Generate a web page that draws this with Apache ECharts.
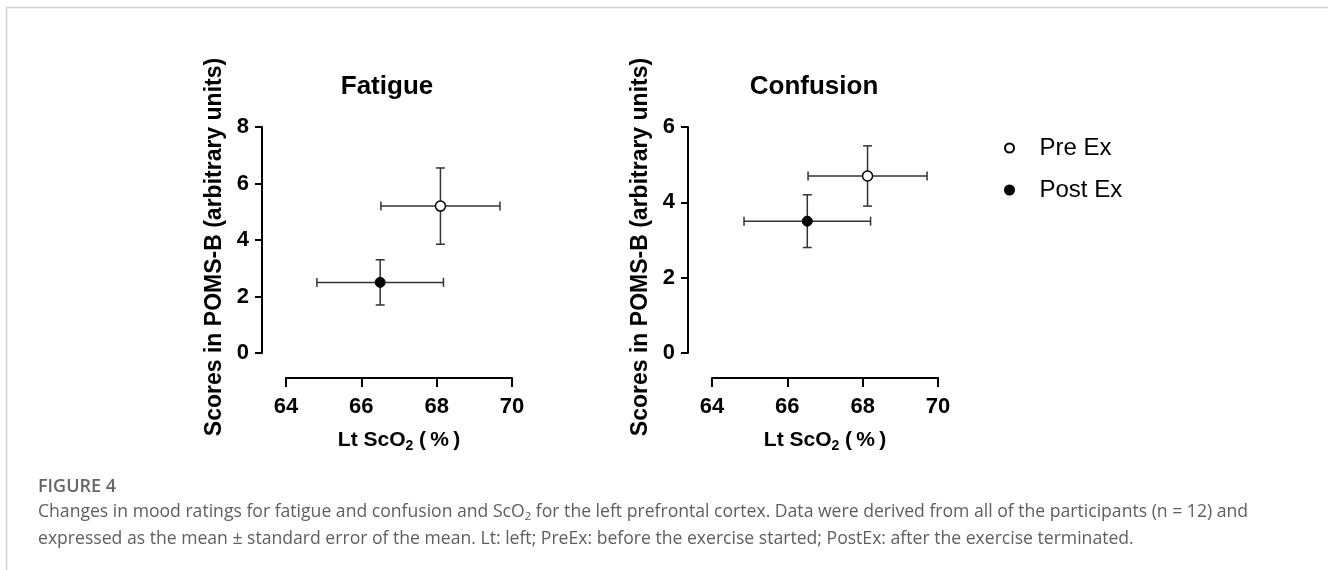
<!DOCTYPE html>
<html>
<head>
<meta charset="utf-8">
<script src="https://cdn.jsdelivr.net/npm/echarts@6/dist/echarts.min.js"></script>
<style>
  html, body { margin: 0; padding: 0; background: #fff; }
  #myChart { width: 1328px; height: 570px; }
</style>
</head>
<body>
<div id="myChart"></div>
<script>
  // values (mean and standard error)
  var panels = ['Fatigue', 'Confusion'];
  var yMax = [8, 6];

  var preSco2 = [68.1, 68.13];
  var preSco2Se = [1.58, 1.58];
  var postSco2 = [66.5, 66.53];
  var postSco2Se = [1.68, 1.68];

  var preScore = [5.2, 4.7];
  var preScoreSe = [1.35, 0.8];
  var postScore = [2.5, 3.5];
  var postScoreSe = [0.8, 0.7];

  var font = 'Liberation Sans, Arial, sans-serif';
  var ink = '#000';
  var barColor = '#333';

  var myChart = echarts.init(document.getElementById('myChart'));

  // error bars with caps, drawn through the axis scales
  function errorBars(params, api) {
    var x = api.value(0), y = api.value(1), xe = api.value(2), ye = api.value(3);
    var l = api.coord([x - xe, y]), r = api.coord([x + xe, y]);
    var t = api.coord([x, y + ye]), b = api.coord([x, y - ye]);
    var cap = 4.5;
    var style = { stroke: barColor, lineWidth: 1.5, fill: null };
    function line(x1, y1, x2, y2) {
      return { type: 'line', shape: { x1: x1, y1: y1, x2: x2, y2: y2 }, style: style };
    }
    return {
      type: 'group',
      children: [
        line(l[0], l[1], r[0], r[1]),
        line(l[0], l[1] - cap, l[0], l[1] + cap),
        line(r[0], r[1] - cap, r[0], r[1] + cap),
        line(t[0], t[1], b[0], b[1]),
        line(t[0] - cap, t[1], t[0] + cap, t[1]),
        line(b[0] - cap, b[1], b[0] + cap, b[1])
      ]
    };
  }

  var gridLeft = [286, 712];
  var titleCenter = [382, 809];
  var grids = [], xAxes = [], yAxes = [], titles = [], series = [];

  panels.forEach(function (name, i) {
    grids.push({ left: gridLeft[i], width: 226, top: 127, height: 226 });
    titles.push({
      text: name,
      left: titleCenter[i],
      top: 69,
      textAlign: 'center',
      textStyle: { fontFamily: font, fontSize: 26, fontWeight: 'bold', color: ink }
    });
    xAxes.push({
      gridIndex: i,
      type: 'value',
      min: 64,
      max: 70,
      interval: 2,
      offset: 25,
      name: '{a|Lt ScO}{s|2}{a| (\u2009%\u2009)}',
      nameLocation: 'middle',
      nameGap: 49,
      nameTextStyle: {
        rich: {
          a: { fontFamily: font, fontSize: 21, fontWeight: 'bold', color: ink },
          s: { fontFamily: font, fontSize: 14, fontWeight: 'bold', color: ink, verticalAlign: 'bottom', padding: [12, 0, 0, 0] }
        }
      },
      axisLine: { show: true, onZero: false, lineStyle: { color: ink, width: 2 } },
      axisTick: { show: true, inside: false, length: 9, lineStyle: { color: ink, width: 2 } },
      axisLabel: { margin: 18, fontFamily: font, fontSize: 22, fontWeight: 'bold', color: ink },
      splitLine: { show: false }
    });
    yAxes.push({
      gridIndex: i,
      type: 'value',
      min: 0,
      max: yMax[i],
      interval: 2,
      offset: 24,
      name: 'Scores in POMS-B (arbitrary units)',
      nameLocation: 'middle',
      nameGap: 36,
      nameTextStyle: { fontFamily: font, fontSize: 23, fontWeight: 'bold', color: ink, padding: [0, 14, 0, 0] },
      axisLine: { show: true, onZero: false, lineStyle: { color: ink, width: 2 } },
      axisTick: { show: true, inside: false, length: 7, lineStyle: { color: ink, width: 2 } },
      axisLabel: { margin: 13, fontFamily: font, fontSize: 22, fontWeight: 'bold', color: ink },
      splitLine: { show: false }
    });

    series.push({
      type: 'custom',
      xAxisIndex: i,
      yAxisIndex: i,
      renderItem: errorBars,
      silent: true,
      z: 1,
      data: [
        [preSco2[i], preScore[i], preSco2Se[i], preScoreSe[i]],
        [postSco2[i], postScore[i], postSco2Se[i], postScoreSe[i]]
      ]
    });
    series.push({
      name: 'Pre Ex',
      type: 'scatter',
      xAxisIndex: i,
      yAxisIndex: i,
      symbol: 'circle',
      symbolSize: 10,
      z: 3,
      itemStyle: { color: '#fff', borderColor: ink, borderWidth: 1.5, opacity: 1 },
      data: [[preSco2[i], preScore[i]]]
    });
    series.push({
      name: 'Post Ex',
      type: 'scatter',
      xAxisIndex: i,
      yAxisIndex: i,
      symbol: 'circle',
      symbolSize: 10,
      z: 3,
      itemStyle: { color: ink, borderColor: ink, borderWidth: 1, opacity: 1 },
      data: [[postSco2[i], postScore[i]]]
    });
  });

  var capFont = 'Open Sans, Noto Sans, sans-serif';
  var caption2 = 'expressed as the mean \u00B1 standard error of the mean. Lt: left; PreEx: before the exercise started; PostEx: after the exercise terminated.';

  myChart.setOption({
    backgroundColor: '#fff',
    animation: false,
    title: titles,
    grid: grids,
    xAxis: xAxes,
    yAxis: yAxes,
    legend: {
      orient: 'vertical',
      left: 999,
      top: 131,
      itemWidth: 20,
      itemHeight: 9,
      itemGap: 18,
      selectedMode: false,
      textStyle: { fontFamily: font, fontSize: 24, color: ink, padding: [0, 0, 0, 15] },
      data: ['Pre Ex', 'Post Ex']
    },
    graphic: [
      { type: 'line', shape: { x1: 6.5, y1: 7.5, x2: 1328, y2: 7.5 }, style: { stroke: '#cfcfcf', lineWidth: 1.5 } },
      { type: 'line', shape: { x1: 6.5, y1: 7.5, x2: 6.5, y2: 570 }, style: { stroke: '#cfcfcf', lineWidth: 1.5 } },
      {
        type: 'text', left: 38, top: 478,
        style: { text: 'FIGURE 4', font: '600 18px ' + capFont, fill: '#666' }
      },
      {
        type: 'text', left: 38, top: 503,
        style: {
          text: '{t|Changes in mood ratings for fatigue and confusion and ScO}{s|2}' +
                '{t| for the left prefrontal cortex. Data were derived from all of the participants (n = 12) and}',
          rich: {
            t: { fontFamily: capFont, fontSize: 17.6, fill: '#5e5e5e' },
            s: { fontFamily: capFont, fontSize: 11.5, fill: '#5e5e5e', padding: [9, 0, 0, 0] }
          }
        }
      },
      {
        type: 'text', left: 38, top: 530,
        style: { text: caption2, font: '17.6px ' + capFont, fill: '#5e5e5e' }
      }
    ],
    series: series
  });
</script>
</body>
</html>
